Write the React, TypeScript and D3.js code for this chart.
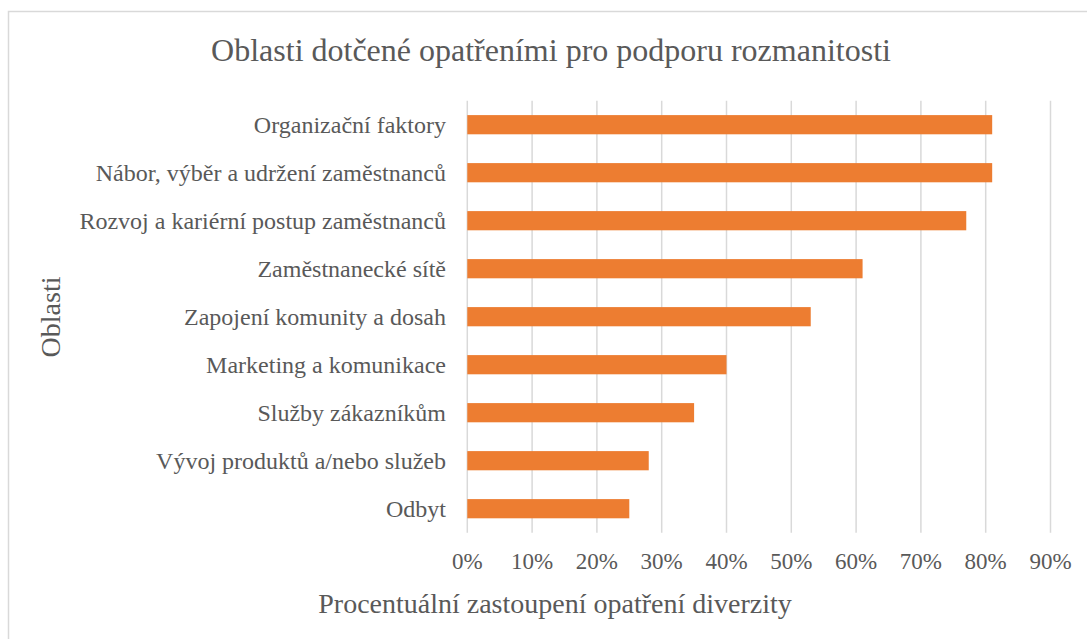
import * as d3 from 'd3';
import { type FC, useEffect, useRef } from 'react';

const categories = [
  'Organizační faktory',
  'Nábor, výběr a udržení zaměstnanců',
  'Rozvoj a kariérní postup zaměstnanců',
  'Zaměstnanecké sítě',
  'Zapojení komunity a dosah',
  'Marketing a komunikace',
  'Služby zákazníkům',
  'Vývoj produktů a/nebo služeb',
  'Odbyt',
];
const values = [0.81, 0.81, 0.77, 0.61, 0.53, 0.4, 0.35, 0.28, 0.25];
const ticks = [0, 0.1, 0.2, 0.3, 0.4, 0.5, 0.6, 0.7, 0.8, 0.9];

const W = 1087;
const H = 639;
const FONT = '"Liberation Serif", "Times New Roman", serif';
const TEXT = '#595959';

const App: FC = () => {
  const svgRef = useRef<SVGSVGElement>(null);

  useEffect(() => {
    if (!svgRef.current) return;
    const svg = d3.select(svgRef.current);
    svg.selectAll('*').remove();

    const left = 467.3;
    const right = 1050.5;
    const top = 100.7;
    const bottom = 532.7;

    const x = d3.scaleLinear().domain([0, 0.9]).range([left, right]);
    const y = d3
      .scaleBand<string>()
      .domain(categories)
      .range([top, bottom])
      .paddingInner(0.6)
      .paddingOuter(0.3);

    // chart frame
    svg
      .append('rect')
      .attr('x', 8.5)
      .attr('y', 11.5)
      .attr('width', W + 20)
      .attr('height', H + 20)
      .attr('fill', '#fff')
      .attr('stroke', '#d9d9d9')
      .attr('stroke-width', 1.5);

    // title
    svg
      .append('text')
      .attr('x', 551)
      .attr('y', 61)
      .attr('text-anchor', 'middle')
      .attr('font-family', FONT)
      .attr('font-size', 32)
      .attr('fill', TEXT)
      .text('Oblasti dotčené opatřeními pro podporu rozmanitosti');

    // gridlines
    svg
      .append('g')
      .selectAll('line')
      .data(ticks)
      .join('line')
      .attr('x1', (d) => x(d))
      .attr('x2', (d) => x(d))
      .attr('y1', top)
      .attr('y2', bottom)
      .attr('stroke', '#d9d9d9')
      .attr('stroke-width', 1.5);

    // bars
    svg
      .append('g')
      .selectAll('rect')
      .data(categories)
      .join('rect')
      .attr('x', x(0))
      .attr('y', (d) => y(d)!)
      .attr('width', (_, i) => x(values[i]) - x(0))
      .attr('height', y.bandwidth())
      .attr('fill', '#ED7D31');

    // x tick labels
    svg
      .append('g')
      .selectAll('text')
      .data(ticks)
      .join('text')
      .attr('x', (d) => x(d))
      .attr('y', 569)
      .attr('text-anchor', 'middle')
      .attr('font-family', FONT)
      .attr('font-size', 23)
      .attr('fill', TEXT)
      .text((d) => d3.format('.0%')(d));

    // category labels
    svg
      .append('g')
      .selectAll('text')
      .data(categories)
      .join('text')
      .attr('x', 446)
      .attr('y', (d) => y(d)! + y.bandwidth() / 2)
      .attr('dy', '0.35em')
      .attr('text-anchor', 'end')
      .attr('font-family', FONT)
      .attr('font-size', 24)
      .attr('fill', TEXT)
      .text((d) => d);

    // axis titles
    svg
      .append('text')
      .attr('x', 555)
      .attr('y', 613)
      .attr('text-anchor', 'middle')
      .attr('font-family', FONT)
      .attr('font-size', 28)
      .attr('fill', TEXT)
      .text('Procentuální zastoupení opatření diverzity');

    svg
      .append('text')
      .attr('transform', 'translate(60,317) rotate(-90)')
      .attr('text-anchor', 'middle')
      .attr('font-family', FONT)
      .attr('font-size', 28)
      .attr('fill', TEXT)
      .text('Oblasti');
  }, []);

  return (
    <svg
      ref={svgRef}
      width={W}
      height={H}
      style={{ position: 'absolute', left: 0, top: 0, display: 'block' }}
    />
  );
};

export default App;
